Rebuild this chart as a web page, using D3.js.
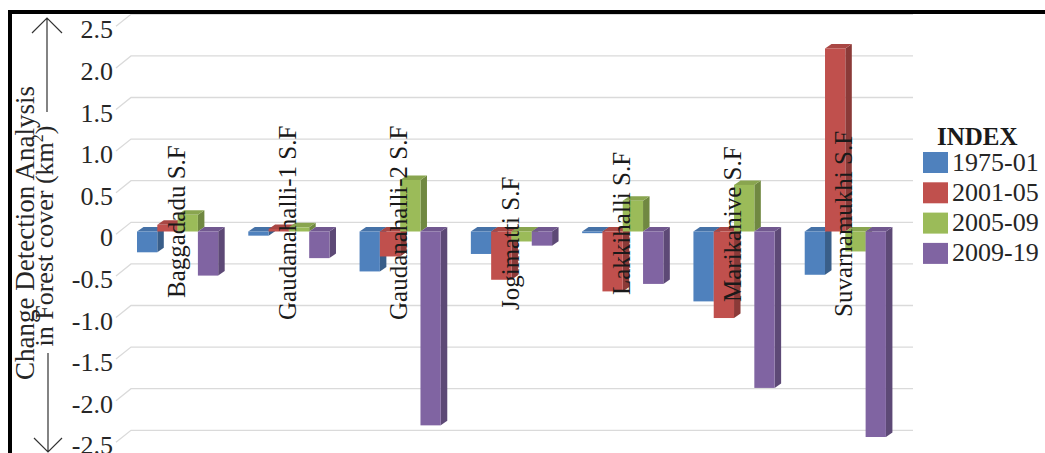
<!DOCTYPE html>
<html>
<head>
<meta charset="utf-8">
<script src="https://d3js.org/d3.v7.min.js"></script>
<style>
html,body{margin:0;padding:0;background:#fff;overflow:hidden;}
svg{display:block;}
text{font-family:"Liberation Serif","Times New Roman",serif;}
</style>
</head>
<body>
<svg id="chart" width="1045" height="453"></svg>
<script>
// ---- data ----
const categories = ["Baggadadu S.F","Gaudanahalli-1 S.F","Gaudanahalli-2 S.F","Jogimatti S.F","Lakkihalli S.F","Marikanive S.F","Suvarnamukhi S.F"];
const seriesNames = ["1975-01","2001-05","2005-09","2009-19"];
const s1975_01 = [-0.25, -0.05, -0.48, -0.27, -0.02, -0.84, -0.52];
const s2001_05 = [0.08, 0.03, -0.30, -0.58, -0.72, -1.04, 2.20];
const s2005_09 = [0.20, 0.05, 0.62, -0.12, 0.37, 0.56, -0.24];
const s2009_19 = [-0.53, -0.32, -2.33, -0.17, -0.63, -1.88, -2.47];
const tickValues = [2.5, 2.0, 1.5, 1.0, 0.5, 0, -0.5, -1.0, -1.5, -2.0, -2.5];
const tickLabels = ["2.5","2.0","1.5","1.0","0.5","0","-0.5","-1.0","-1.5","-2.0","-2.5"];
const legendTitle = "INDEX";
const yTitle1 = "Change Detection Analysis";
const yTitle2 = "in Forest cover (km";

// ---- layout / style ----
const colors = ["#4f81bd","#c0504d","#9bbb59","#8064a2"];
const labelBottom = [298, 320, 320, 310, 295, 302, 317]; // layout of rotated category labels
const seriesValues = [s1975_01, s2001_05, s2005_09, s2009_19];

const svg = d3.select("#chart");

// scales
const y = d3.scaleLinear().domain([-2.5, 2.5]).range([439.5, 23.5]); // bar front face
const backShift = -9.2;  // back wall relative to front face
const yB = v => y(v) + backShift;
const yLab = d3.scaleLinear().domain([-2.5, 2.5]).range([yB(-2.5) + 14.5, yB(2.5) + 14.5]);

const x0 = d3.scaleBand().domain(categories).range([122, 901]).padding(0);
const x1 = d3.scaleBand().domain(seriesNames).range([15, 15 + 81.2]).padding(0);

const dx = 6.5, dy = -4.5;

// gridlines (back wall + side wall stubs)
const grid = svg.append("g");
grid.selectAll("path").data(tickValues).join("path")
  .attr("d", v => `M116,${yB(v)+12}L131,${yB(v)}L913,${yB(v)}`)
  .attr("fill","none").attr("stroke","#dadada").attr("stroke-width",1.3);

// axis labels
const axis = d3.axisLeft(yLab).tickValues(tickValues)
  .tickFormat((d,i) => tickLabels[i]).tickSize(0).tickPadding(0);
const ag = svg.append("g").attr("transform","translate(113,0)").call(axis);
ag.select(".domain").remove();
ag.selectAll("text").attr("font-size",26).attr("fill","#262626")
  .attr("font-family","Liberation Serif, serif").attr("dy","0.35em");

// bars
const barsG = svg.append("g");
categories.forEach((cat, ci) => {
  seriesNames.forEach((s, si) => {
    const v = seriesValues[si][ci];
    const xl = x0(cat) + x1(s);
    const w = x1.bandwidth();
    const yt = Math.min(y(0), y(v));
    const yb = Math.max(y(0), y(v));
    const c = d3.color(colors[si]);
    const g = barsG.append("g");
    // side face
    g.append("path")
      .attr("d", `M${xl+w},${yt}L${xl+w+dx},${yt+dy}L${xl+w+dx},${yb+dy}L${xl+w},${yb}Z`)
      .attr("fill", c.darker(0.9));
    // top face
    g.append("path")
      .attr("d", `M${xl},${yt}L${xl+dx},${yt+dy}L${xl+w+dx},${yt+dy}L${xl+w},${yt}Z`)
      .attr("fill", c.darker(0.35));
    // front face
    g.append("rect")
      .attr("x", xl).attr("y", yt).attr("width", w).attr("height", yb - yt)
      .attr("fill", c);
  });
});

// category labels
svg.append("g").selectAll("text").data(categories).join("text")
  .attr("transform", (d,i) => `translate(${x0(d) + x0.bandwidth()/2 + 7},${labelBottom[i]}) rotate(-90)`)
  .attr("text-anchor","start").attr("font-size",25).attr("fill","#1a1a1a")
  .text(d => d);

// y title
svg.append("text").attr("transform","translate(34,233) rotate(-90)")
  .attr("text-anchor","middle").attr("font-size",27).attr("fill","#262626").text(yTitle1);
const t2 = svg.append("text").attr("transform","translate(53,236) rotate(-90)")
  .attr("text-anchor","middle").attr("font-size",26).attr("fill","#262626");
t2.append("tspan").text(yTitle2);
t2.append("tspan").attr("font-size",16).attr("dy",-10).text("2");
t2.append("tspan").attr("dy",10).text(")");

// arrows
const arrowColor = "#333";
svg.append("path").attr("d","M47,112L47,18M32,33L47,18L62,33")
  .attr("fill","none").attr("stroke",arrowColor).attr("stroke-width",1.2);
svg.append("path").attr("d","M48,353L48,452M34,438L48,452L62,438")
  .attr("fill","none").attr("stroke",arrowColor).attr("stroke-width",1.2);

// legend
const lg = svg.append("g");
lg.append("text").attr("x",937).attr("y",145).attr("font-size",25)
  .attr("font-weight","bold").attr("fill","#1a1a1a").text(legendTitle);
const items = lg.selectAll("g.item").data(seriesNames).join("g").attr("class","item")
  .attr("transform",(d,i) => `translate(0,${152 + i*30.3})`);
items.append("rect").attr("x",923).attr("y",0).attr("width",25).attr("height",21)
  .attr("fill",(d,i) => colors[i]);
items.append("text").attr("x",952).attr("y",18.5).attr("font-size",26)
  .attr("fill","#262626").text(d => d);

// border
svg.append("rect").attr("x",10).attr("y",12).attr("width",1100).attr("height",500)
  .attr("fill","none").attr("stroke","#000").attr("stroke-width",4);
</script>
</body>
</html>
